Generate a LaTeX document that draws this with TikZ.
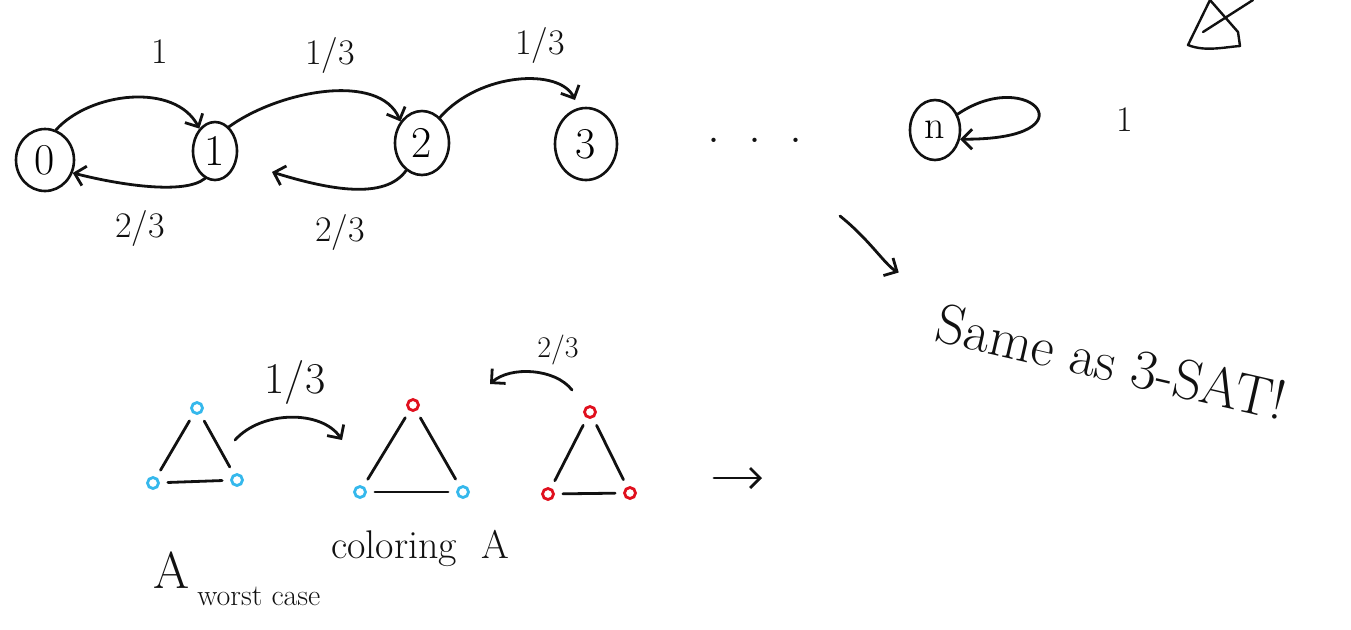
\documentclass[tikz,border=0pt]{standalone}
\usetikzlibrary{positioning, arrows.meta, shapes.geometric, calc}
\definecolor{skInk}{HTML}{111111}
\definecolor{skBlue}{HTML}{35B8EC}
\definecolor{skRed}{HTML}{E0101E}
\tikzset{
  skState/.style={ellipse, draw=skInk, line width=1.3pt, inner sep=0pt,
                  font=\fontsize{22}{24}\selectfont},
  skArrow/.style={-{Straight Barb[length=5pt, width=10pt]}, line width=1.4pt,
                  draw=skInk, line cap=round},
  skEdge/.style={line width=1.4pt, draw=skInk, line cap=round, shorten <=4pt, shorten >=4pt},
  skLabel/.style={font=\fontsize{18}{20}\selectfont, inner sep=1pt, text=skInk},
  skVertex/.style={circle, draw, line width=1.4pt, inner sep=0pt, minimum size=5.5pt},
}

\begin{document}
\begin{tikzpicture}[x=0.5pt, y=-0.5pt]
  \useasboundingbox (0,0) rectangle (1351,629);

  % ─── Chain of states ─────────────────────────────────────────────
  \node[skState, minimum width=29pt, minimum height=31pt] (s0) at (45,160)  {0};
  \node[skState, minimum width=22pt, minimum height=29pt] (s1) at (215,151) {1};
  \node[skState, minimum width=27pt, minimum height=32pt] (s2) at (422,143) {2};
  \node[skState, minimum width=31pt, minimum height=36pt] (s3) at (586,144) {3};
  \node[skLabel, font=\fontsize{26}{28}\selectfont] (dots) at (755,140) {.\hspace{14pt}.\hspace{14pt}.};
  \node[skState, minimum width=25pt, minimum height=30pt, font=\fontsize{20}{22}\selectfont] (sn) at (935,130) {n};

  % forward moves
  \draw[skArrow] (s0.70) .. controls (90,92) and (175,82) .. (s1.125);
  \node[skLabel] (p01) at (160,52) {1};
  \draw[skArrow] (s1.60) .. controls (280,90) and (380,72) .. (s2.135);
  \node[skLabel] (p12) at (330,55) {1/3};
  \coordinate (c23) at (575,100);
  \draw[skArrow] (s2.55) .. controls (480,72) and (560,68) .. (c23);
  \node[skLabel] (p23) at (540,45) {1/3};

  % backward moves
  \draw[skArrow] (s1.250) .. controls (185,195) and (120,185) .. (s0.-25);
  \node[skLabel] (p10) at (140,228) {2/3};
  \coordinate (c21) at (272,172);
  \draw[skArrow] (s2.240) .. controls (385,200) and (330,190) .. (c21);
  \node[skLabel] (p21) at (340,232) {2/3};

  % self loop on n
  \draw[skArrow] (sn.35) .. controls (1030,65) and (1095,140) .. (sn.-20);
  \node[skLabel] (pnn) at (1125,120) {1};

  % ─── Remark ──────────────────────────────────────────────────────
  \node[font=\fontsize{28}{30}\selectfont, rotate=-13, text=skInk] (sat) at (1112,362) {Same as 3-SAT!};
  \coordinate (cSat) at (840,216);
  \draw[skArrow, shorten >=22pt] (cSat) .. controls (870,240) and (885,265) .. (sat.north west);

  % ─── Colourings of a triangle ────────────────────────────────────
  \node[skVertex, draw=skBlue] (a1) at (197,408) {};
  \node[skVertex, draw=skBlue] (b1) at (153,483) {};
  \node[skVertex, draw=skBlue] (c1) at (237,480) {};
  \draw[skEdge] (a1) -- (b1);
  \draw[skEdge] (a1) -- (c1);
  \draw[skEdge] (b1) -- (c1);

  \node[skVertex, draw=skRed]  (a2) at (413,405) {};
  \node[skVertex, draw=skBlue] (b2) at (360,492) {};
  \node[skVertex, draw=skBlue] (c2) at (463,492) {};
  \draw[skEdge] (a2) -- (b2);
  \draw[skEdge] (a2) -- (c2);
  \draw[skEdge] (b2) -- (c2);

  \node[skVertex, draw=skRed] (a3) at (590,412) {};
  \node[skVertex, draw=skRed] (b3) at (548,494) {};
  \node[skVertex, draw=skRed] (c3) at (630,493) {};
  \draw[skEdge] (a3) -- (b3);
  \draw[skEdge] (a3) -- (c3);
  \draw[skEdge] (b3) -- (c3);

  \coordinate (t12a) at (235,440);
  \coordinate (t12b) at (342,440);
  \draw[skArrow] (t12a) .. controls (262,410) and (322,410) .. (t12b);
  \node[skLabel, font=\fontsize{22}{24}\selectfont] (q12) at (295,382) {1/3};

  \coordinate (t32a) at (572,390);
  \coordinate (t32b) at (490,384);
  \draw[skArrow] (t32a) .. controls (555,368) and (510,366) .. (t32b);
  \node[skLabel, font=\fontsize{15}{17}\selectfont] (q32) at (558,350) {2/3};

  \coordinate (tNa) at (714,478);
  \coordinate (tNb) at (762,478);
  \draw[skArrow] (tNa) -- (tNb);

  \node[skLabel, font=\fontsize{20}{22}\selectfont] (col) at (420,548) {coloring\hspace{12pt}A};
  \node[skLabel, font=\fontsize{26}{28}\selectfont] (aw) at (172,570) {A};
  \node[skLabel, font=\fontsize{15}{17}\selectfont, anchor=west] (wc) at (195,596) {worst case};

  % ─── Scribble in the corner ──────────────────────────────────────
  \draw[line width=1.2pt, draw=skInk, line cap=round, line join=round]
    (1210,0) -- (1188,45) .. controls (1205,52) and (1225,47) .. (1240,46) -- (1238,32) -- (1210,0);
  \draw[line width=1.2pt, draw=skInk, line cap=round] (1203,32) -- (1253,0);
\end{tikzpicture}
\end{document}
